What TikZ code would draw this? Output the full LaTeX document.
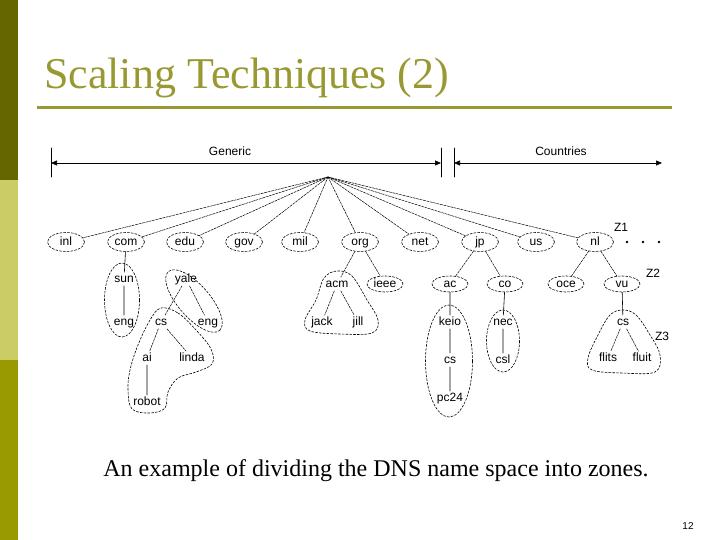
\documentclass[tikz,border=0pt]{standalone}
\usepackage{fontspec}
\setmainfont{Liberation Serif}
\newfontfamily\dnsfont{Liberation Sans}
\usetikzlibrary{arrows.meta,shapes.geometric}
\definecolor{olivedark}{HTML}{666600}
\definecolor{olivelight}{HTML}{CCCC66}
\definecolor{olivemid}{HTML}{999900}
\definecolor{titleolive}{HTML}{999933}
\tikzset{
  every picture/.style={line join=round, line cap=round, >=Stealth},
  zoneline/.style={dash pattern=on 2.2pt off 1.6pt, line width=0.6pt},
  zonenode/.style={ellipse, draw, zoneline, inner sep=0pt, minimum width=37pt, minimum height=19pt, text height=8.6pt, text depth=2.4pt, font=\dnsfont\fontsize{12}{14}\selectfont},
  subzone/.style={zonenode, minimum width=36pt, minimum height=16pt},
  lbl/.style={inner sep=1.2pt, text height=8.6pt, text depth=2.4pt, font=\dnsfont\fontsize{12}{14}\selectfont},
  dlink/.style={dash pattern=on 2.5pt off 1pt, line width=0.5pt},
  slink/.style={line width=0.6pt},
  spanarrow/.style={{Triangle[length=6pt,width=5pt]}-{Triangle[length=6pt,width=5pt]}, line width=0.6pt},
}

\begin{document}
\begin{tikzpicture}[x=1pt,y=-1pt]
\useasboundingbox (0,0) rectangle (720,540);
% side strip and title
\fill[olivedark] (0,0) rectangle (18,180);
\fill[olivelight] (0,180) rectangle (18,360);
\fill[olivemid] (0,360) rectangle (18,540);
\node[anchor=base west, inner sep=0, text=titleolive, font=\fontsize{44}{50}\selectfont] (title) at (44,89) {Scaling Techniques (2)};
\draw[titleolive, line width=3pt, line cap=butt] (37,108) -- (672,108);

% generic / countries
\draw[line width=0.6pt] (51,148) -- (51,177) (441,148) -- (441,177) (454,148) -- (454,177);
\coordinate (genl) at (51,163); \coordinate (genr) at (441,163);
\coordinate (ctyl) at (454,163); \coordinate (ctyr) at (662,163);
\draw[spanarrow] (genl) -- (genr);
\draw[spanarrow] (ctyl) -- (ctyr);
\node[lbl] (generic) at (230,152) {Generic};
\node[lbl] (countries) at (561,152) {Countries};

% top level domains
\coordinate (root) at (328,177);
\foreach \d/\x in {inl/66,com/126,edu/185,gov/244,mil/300,org/360,net/420,jp/480,us/536,nl/595}{
  \node[zonenode] (\d) at (\x,242) {\d};
  \draw[dlink] (root) -- (\d);
}
\node[lbl] (z1) at (621,228) {Z1};
\foreach \x in {627,643,659} \fill (\x,242) circle (1.3);

% com and edu
\node[lbl] (sun) at (124,279) {sun};
\node[lbl] (suneng) at (124,322) {eng};
\node[lbl] (yale) at (186,279) {yale};
\node[lbl] (yalecs) at (161,322) {cs};
\node[lbl] (yaleeng) at (208,322) {eng};
\node[lbl] (ai) at (147,358) {ai};
\node[lbl] (linda) at (192,358) {linda};
\node[lbl] (robot) at (147,402) {robot};
\draw[slink] (com) -- (sun) (sun) -- (suneng) (ai) -- (robot);
\draw[dlink] (yale) -- (yalecs) (yale) -- (yaleeng) (yalecs) -- (ai) (yalecs) -- (linda);
\draw[zoneline] (122,300) ellipse [x radius=17.5, y radius=37];
\draw[zoneline, rotate around={-49:(194,301)}] (194,301) ellipse [x radius=39pt, y radius=16pt];
\draw[zoneline] plot[smooth cycle, tension=0.6] coordinates {(161,308) (178,313) (196,330) (211,349) (212,364) (196,372) (178,378) (168,392) (165,408) (150,413) (132,409) (128,390) (130,370) (138,345) (150,320)};

% org
\node[lbl] (acm) at (337,284) {acm};
\node[subzone] (ieee) at (385,284) {ieee};
\node[lbl] (jack) at (322,322) {jack};
\node[lbl] (jill) at (358,322) {jill};
\draw[dlink] (org) -- (acm) (org) -- (ieee) (acm) -- (jack) (acm) -- (jill);
\draw[zoneline] plot[smooth cycle, tension=0.6] coordinates {(337,271) (352,276) (367,300) (378,320) (372,333) (340,334) (310,331) (305,320) (316,300) (324,278)};

% jp
\node[subzone] (ac) at (450,284) {ac};
\node[subzone] (co) at (505,284) {co};
\node[lbl] (keio) at (450,322) {keio};
\node[lbl] (keiocs) at (450,360) {cs};
\node[lbl] (pc24) at (450,398) {pc24};
\node[lbl] (nec) at (503,322) {nec};
\node[lbl] (csl) at (503,360) {csl};
\draw[dlink] (jp) -- (ac) (jp) -- (co);
\draw[slink] (ac) -- (keio) (keio) -- (keiocs) (keiocs) -- (pc24) (co) -- (nec) (nec) -- (csl);
\draw[zoneline] (449,361) ellipse [x radius=23.5, y radius=56];
\draw[zoneline] (503,341) ellipse [x radius=16.5, y radius=31];

% nl
\node[subzone] (oce) at (566,284) {oce};
\node[subzone] (vu) at (622,284) {vu};
\node[lbl] (z2) at (653,274) {Z2};
\node[lbl] (vucs) at (623,322) {cs};
\node[lbl] (flits) at (608,358) {flits};
\node[lbl] (fluit) at (642,358) {fluit};
\node[lbl] (z3) at (662,337) {Z3};
\draw[dlink] (nl) -- (oce) (nl) -- (vu) (vucs) -- (flits) (vucs) -- (fluit);
\draw[slink] (vu) -- (vucs);
\draw[zoneline] plot[smooth cycle, tension=0.6] coordinates {(623,310) (636,315) (650,335) (660,355) (655,372) (622,373) (592,370) (588,358) (598,335) (610,315)};

% caption
\node[anchor=base, inner sep=0, font=\fontsize{24}{28}\selectfont] (caption) at (376,476) {An example of dividing the DNS name space into zones.};
\node[lbl, font=\dnsfont\fontsize{10}{12}\selectfont] (pagenum) at (688,526) {12};
\end{tikzpicture}
\end{document}
